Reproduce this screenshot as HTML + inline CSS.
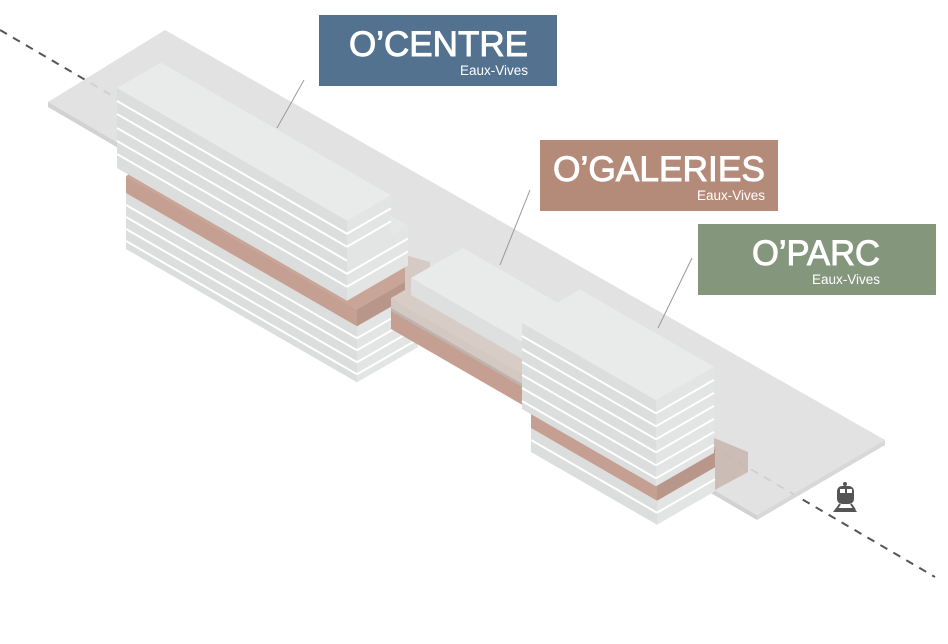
<!DOCTYPE html>
<html><head><meta charset="utf-8"><style>
html,body{margin:0;padding:0;background:#fff;width:948px;height:644px;overflow:hidden}
svg{display:block}
</style></head><body>
<svg id="s" width="948" height="644" viewBox="0 0 948 644" xmlns="http://www.w3.org/2000/svg" font-family="Liberation Sans, sans-serif">
<line x1="0" y1="30" x2="935" y2="577" stroke="#555" stroke-width="2" stroke-dasharray="8,7"/>
<g id="g"></g>
<g id="labels">
<line x1="304" y1="80" x2="277" y2="128" stroke="#999" stroke-width="1"/>
<line x1="530" y1="190" x2="500" y2="265" stroke="#999" stroke-width="1"/>
<line x1="692" y1="258" x2="658" y2="328" stroke="#999" stroke-width="1"/>
<rect x="319" y="15" width="238" height="71" fill="#52728f"/>
<text x="528" y="56" fill="#fff" stroke="#fff" stroke-width="0.9" font-size="35" text-anchor="end" textLength="179" lengthAdjust="spacingAndGlyphs">O’CENTRE</text>
<text x="528" y="75" fill="#fff" font-size="13.5" text-anchor="end">Eaux-Vives</text>
<rect x="540" y="140" width="238" height="71" fill="#b48a79"/>
<text x="765" y="181" fill="#fff" stroke="#fff" stroke-width="0.9" font-size="35" text-anchor="end" textLength="212" lengthAdjust="spacingAndGlyphs">O’GALERIES</text>
<text x="765" y="200" fill="#fff" font-size="13.5" text-anchor="end">Eaux-Vives</text>
<rect x="698" y="224" width="238" height="71" fill="#84977d"/>
<text x="880" y="265" fill="#fff" stroke="#fff" stroke-width="0.9" font-size="35" text-anchor="end" textLength="128" lengthAdjust="spacingAndGlyphs">O’PARC</text>
<text x="880" y="284" fill="#fff" font-size="13.5" text-anchor="end">Eaux-Vives</text>
</g>
<g fill="#555">
<rect x="837" y="486" width="17" height="18" rx="5"/>
<rect x="840" y="489" width="5" height="4" fill="#fff"/>
<rect x="847" y="489" width="5" height="4" fill="#fff"/>
<circle cx="845" cy="484" r="2"/>
<path d="M836 508 L854 508 L857 512 L833 512 Z"/>
<line x1="840" y1="504" x2="836" y2="510" stroke="#555" stroke-width="2"/>
<line x1="851" y1="504" x2="855" y2="510" stroke="#555" stroke-width="2"/>
</g>
</svg>
<script>
var g=document.getElementById('g'),NS='http://www.w3.org/2000/svg',k=0.577;
function poly(pts,fill,op){var p=document.createElementNS(NS,'polygon');p.setAttribute('points',pts.map(function(a){return a[0].toFixed(1)+','+a[1].toFixed(1)}).join(' '));p.setAttribute('fill',fill);if(op)p.setAttribute('opacity',op);g.appendChild(p);}
function ln(x1,y1,x2,y2,c,w){var l=document.createElementNS(NS,'line');l.setAttribute('x1',x1);l.setAttribute('y1',y1);l.setAttribute('x2',x2);l.setAttribute('y2',y2);l.setAttribute('stroke',c||'#fff');l.setAttribute('stroke-width',w||2);g.appendChild(l);}
function box(x,y,L,D,H,ct,cf,cr,lines,op){
 var A=[x,y],B=[x+D,y-k*D],C=[x+D+L,y-k*D+k*L],E=[x+L,y+k*L];
 if(ct)poly([A,B,C,E],ct,op);
 poly([A,E,[E[0],E[1]+H],[x,y+H]],cf,op);
 poly([E,C,[C[0],C[1]+H],[E[0],E[1]+H]],cr,op);
 if(lines){for(var h=lines;h<H-2;h+=lines){ln(x,y+h,E[0],E[1]+h);ln(E[0],E[1]+h,C[0],C[1]+h);}}
}
poly([[48,102],[165,30],[885,440],[757,515]],'#dfdfdf','0.9');
poly([[48,102],[757,515],[757,520],[48,107]],'#d2d2d2');
poly([[757,515],[885,440],[885,445],[757,520]],'#d8d8d8');
box(126,193,231,61,56,'#e6e7e7','#dcdddd','#e3e4e4',12);
box(126,176,231,61,17,'#c9a597','#c59f91','#b9968a');
poly([[405,255],[430,262],[430,300],[405,290]],'#d6cac5');
box(391,298,135,55,29,'#d8ccc7','#d4c8c2','#d0c4be');
poly([[391,308],[526,386],[526,389],[391,311]],'#bdb4b0');
poly([[391,311],[526,389],[526,407],[391,329]],'#c59f91');
box(411,278,120,52,17,'#e9eaea','#dedfdf','#e4e5e5');
box(117,128,230,61,40,'#e6e7e7','#dcdddd','#e3e4e4',13);
box(117,88,230,44,40,'#e9eaea','#dcdddd','#e3e4e4',13);
ln(117,128,347,260.7);
poly([[690,428],[748,452],[748,472],[700,498],[690,492]],'#c7b3ab','0.8');
box(531,428,126,58,24,'#e6e7e7','#dcdddd','#e3e4e4',12);
box(531,410,126,58,18,'#c9a597','#c59f91','#b9968a');
box(522,323,134,58,86,'#e9eaea','#dcdddd','#e3e4e4',13);
</script>
</body></html>
